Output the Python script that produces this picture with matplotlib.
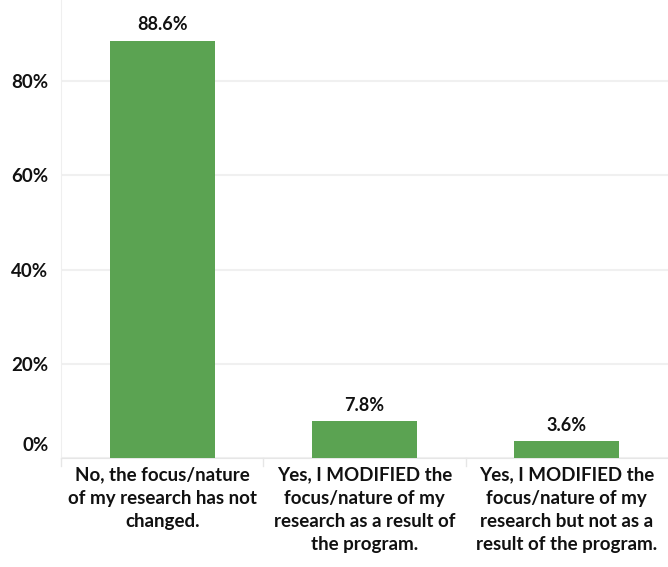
import matplotlib
matplotlib.use("Agg")
import matplotlib.pyplot as plt
import matplotlib.transforms as mtransforms
from matplotlib.ticker import FuncFormatter

categories = [
    "No, the focus/nature\nof my research has not\nchanged.",
    "Yes, I MODIFIED the\nfocus/nature of my\nresearch as a result of\nthe program.",
    "Yes, I MODIFIED the\nfocus/nature of my\nresearch but not as a\nresult of the program.",
]
values = [88.6, 7.8, 3.6]
yticks = [0, 20, 40, 60, 80]

plt.rcParams['font.family'] = ['Lato', 'DejaVu Sans']
plt.rcParams['font.weight'] = 'bold'

fig = plt.figure(figsize=(6.68, 5.67), dpi=100)
ax = fig.add_axes([61/668, 109/567, 1 - 61/668, 458/567])

x = list(range(len(values)))
ax.bar(x, values, width=0.52, color="#5BA352", zorder=3)
for xi, v in zip(x, values):
    ax.text(xi, v + 1.5, f"{v:.1f}%", ha="center", va="bottom",
            fontsize=13, fontweight="bold", color="#111111")

ax.set_xlim(-0.5, len(values) - 0.5)
ax.set_ylim(0, 97.2)
ax.set_yticks(yticks)
ax.yaxis.set_major_formatter(FuncFormatter(lambda v, p: f"{v:.0f}%"))
ax.grid(axis="y", color="#F0F0F0", linewidth=1.5, zorder=0)
ax.grid(axis="x", visible=False)
for s in ["top", "right"]:
    ax.spines[s].set_visible(False)
ax.spines["left"].set_color("#EFEFEF")
ax.spines["bottom"].set_color("#E6E6E6")
ax.tick_params(axis="y", length=0, pad=9, labelsize=13.5, labelcolor="#111111")

ax.set_xticks(x)
ax.set_xticklabels(categories, fontsize=13.5, fontweight="bold", color="#111111", linespacing=1.45)
ax.tick_params(axis="x", length=0, pad=6)
for b in [-0.5, 0.5, 1.5]:
    ax.plot([b, b], [0, -1.6], color="#E6E6E6", linewidth=1, clip_on=False)

# nudge the 0% label up, as in the reference
fig.canvas.draw()
lbl0 = ax.get_yticklabels()[0]
lbl0.set_transform(lbl0.get_transform() + mtransforms.ScaledTranslation(0, 14/100, fig.dpi_scale_trans))

fig.savefig("out.png", dpi=100)
